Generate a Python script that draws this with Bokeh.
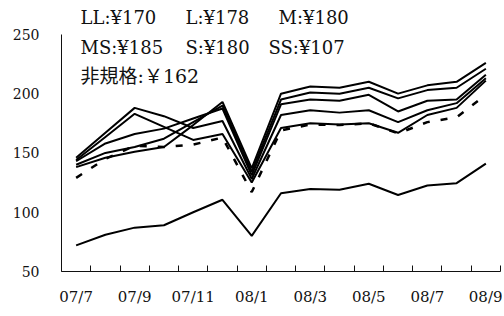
from bokeh.plotting import figure
from bokeh.models import FixedTicker, Range1d, Label
from bokeh.embed import file_html
from bokeh.resources import INLINE

categories = ["07/7", "07/8", "07/9", "07/10", "07/11", "07/12", "08/1", "08/2",
              "08/3", "08/4", "08/5", "08/6", "08/7", "08/8", "08/9"]
tick_every = 2

LL = [138, 146, 151, 155, 173.5, 193, 137, 200, 206, 205, 210, 200, 207, 210, 226]
L = [140, 150, 155, 162, 176, 190, 134, 195, 201, 200, 205, 196, 203, 205, 221]
M = [143, 158, 166, 170.5, 179, 187.5, 131, 191, 195, 194, 199, 185, 194, 195, 216]
MS = [146, 167, 188, 181, 171, 177, 128, 182, 186, 184, 186, 176, 186, 192, 213]
S = [144, 163.5, 183, 172, 161, 166, 125, 171, 175, 174, 175, 167, 182, 188, 211]
SS = [72, 81, 87, 89, 100, 110.5, 80, 116, 119.5, 119, 124, 114.5, 122.5, 124.5, 141]
NONSTD = [129, 145, 156, 155, 157, 163, 117, 169, 174, 173.5, 175, 166.5, 176, 180, 199]

y_ticks = [50, 100, 150, 200, 250]

grade_names = ["LL", "L", "M", "MS", "S", "SS", "非規格"]
grade_prices = [170, 178, 180, 185, 180, 107, 162]
yen_marks = ["¥", "¥", "¥", "¥", "¥", "¥", "￥"]

# layout of the price texts (screen px from frame's bottom-left)
label_xy = [(19, 254), (124, 254), (217, 254),
            (19, 224.5), (124, 224.5), (207, 224.5),
            (19, 196)]

FONT = "'DejaVu Serif', 'Noto Sans CJK JP', serif"
INK = "#111111"

x = list(range(len(categories)))

frame_h = 272                  # px of the plotting frame
axis_px = 238                  # px between 50 and 250
y_top = y_ticks[0] + frame_h * (y_ticks[-1] - y_ticks[0]) / axis_px

p = figure(width=502, height=308, output_backend="svg", toolbar_location=None,
           x_range=Range1d(-0.5, len(categories) - 0.5), y_range=Range1d(y_ticks[0], y_top),
           min_border_left=61, min_border_right=2, min_border_top=0, min_border_bottom=36)
p.xgrid.visible = False
p.ygrid.visible = False
p.outline_line_color = None
p.background_fill_color = "white"

for ys in (LL, L, M, MS, S, SS):
    p.line(x, ys, line_color="black", line_width=2)
p.line(x, NONSTD, line_color="black", line_width=2.5, line_dash="7 11")

# x axis
major = x[::tick_every]
p.xaxis.ticker = FixedTicker(ticks=major, minor_ticks=[i - 0.5 for i in range(len(categories) + 1)])
p.xaxis.major_label_overrides = {i: categories[i] for i in major}
p.xaxis.major_tick_in = 0
p.xaxis.major_tick_out = 0
p.xaxis.minor_tick_in = 6
p.xaxis.minor_tick_out = 0
p.xaxis.minor_tick_line_color = INK
p.xaxis.major_label_standoff = 16
p.xaxis.major_label_text_font_size = "15px"

# y axis
p.yaxis.ticker = FixedTicker(ticks=y_ticks, minor_ticks=[])
p.yaxis.bounds = (y_ticks[0], y_ticks[-1])
p.yaxis.major_tick_in = 0
p.yaxis.major_tick_out = 0
p.yaxis.minor_tick_line_color = None
p.yaxis.major_label_standoff = 22
p.yaxis.major_label_text_font_size = "14px"

for ax in (p.xaxis[0], p.yaxis[0]):
    ax.axis_line_color = INK
    ax.axis_line_width = 1
    ax.major_label_text_font = FONT
    ax.major_label_text_color = INK

for (lx, ly), name, yen, price in zip(label_xy, grade_names, yen_marks, grade_prices):
    p.add_layout(Label(x=lx, y=ly, x_units="screen", y_units="screen",
                       text=f"{name}:{yen}{price}", text_font=FONT,
                       text_font_size="18px" if yen == "¥" else "19px",
                       text_color=INK, text_baseline="middle", text_align="left"))

open("out.html", "w").write(file_html(p, INLINE))
